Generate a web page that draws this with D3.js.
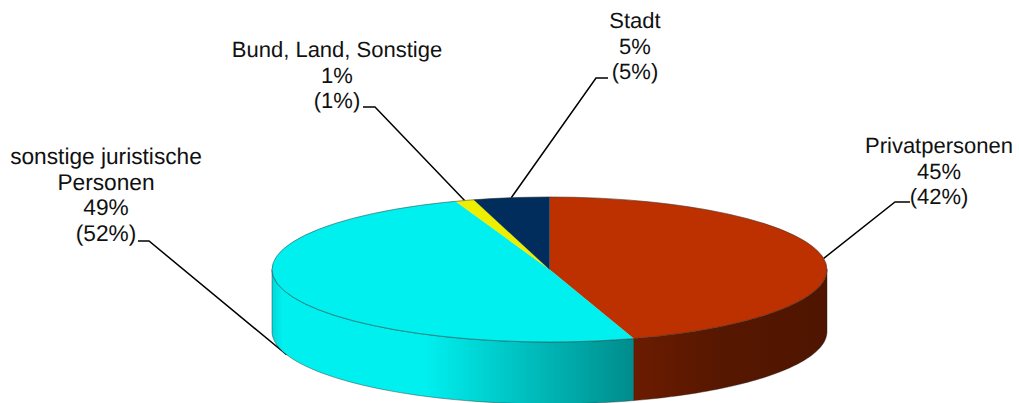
<!DOCTYPE html>
<html><head><meta charset="utf-8">
<script src="https://cdn.jsdelivr.net/npm/d3@7"></script>
<style>html,body{margin:0;padding:0;background:#fff}svg{display:block}text{font-family:"Liberation Sans",Arial,sans-serif;font-size:22px;fill:#111;text-rendering:geometricPrecision}</style>
</head><body><svg id="c" width="1019" height="403"></svg>
<script>
const categories = ["Privatpersonen","sonstige juristische Personen","Bund, Land, Sonstige","Stadt"];
const values = [45.1,49.4,1.1,4.4];
const labelLines = [["Privatpersonen","45%","(42%)"],["sonstige juristische","Personen","49%","(52%)"],["Bund, Land, Sonstige","1%","(1%)"],["Stadt","5%","(5%)"]];
const topColors = ["#bd3000","#00f0f0","#eeee00","#002d5c"];
const wallStops = [
  [["#6b1c00",0],["#561700",.45],["#4f1500",1]],
  [["#00d8d8",0],["#00f0f0",.03],["#00f0f0",.42],["#00d0d0",.6],["#008c8c",1]]
];
// label placement: text centre x, first baseline, font size, leader elbow and tail end
const labelX = [939,106,337,635];
const labelY = [153,164,57,28];
const labelSize = [22,22.7,22,22];
const elbows = [[895,202,910],[149,241,138],[375,107,363],[596,78,608]];

const cx=549.5, cy=269.5, rx=277.5, ry=72.5, depth=62, lineH=25.5;
const svg=d3.select("#c"), defs=svg.append("defs");
const pie=d3.pie().sort(null).value(d=>d)(values);
const pt=(a,dy=0)=>[cx+rx*Math.sin(a),cy-ry*Math.cos(a)+dy];

// leader lines sit behind the pie
pie.forEach((s,i)=>{
  const mid=(s.startAngle+s.endAngle)/2, isWall=i===1;
  const [ax,ay]=pt(mid,isWall?depth:0), e=elbows[i];
  svg.append("path").attr("d",d3.line()([[ax,ay],[e[0],e[1]],[e[2],e[1]]]))
    .attr("fill","none").attr("stroke","#000").attr("stroke-width",1.5);
});

// side wall: only the part of each slice facing front
[0,1].forEach(i=>{
  const s=pie[i];
  const a0=Math.max(s.startAngle,Math.PI/2), a1=Math.min(s.endAngle,3*Math.PI/2);
  if(a1<=a0) return;
  const x0=pt(a0)[0], x1=pt(a1)[0];
  const g=defs.append("linearGradient").attr("id","w"+i).attr("gradientUnits","userSpaceOnUse")
    .attr("x1",Math.min(x0,x1)).attr("x2",Math.max(x0,x1)).attr("y1",0).attr("y2",0);
  wallStops[i].forEach(([c,o])=>g.append("stop").attr("offset",o).attr("stop-color",c));
  const ang=d3.range(0,61).map(k=>a0+(a1-a0)*k/60);
  const poly=ang.map(a=>pt(a)).concat(ang.slice().reverse().map(a=>pt(a,depth)));
  svg.append("path").attr("d",d3.line()(poly)+"Z").attr("fill",`url(#w${i})`)
    .attr("stroke","#222").attr("stroke-width",.6).attr("stroke-opacity",.7);
});

// top face
const arc=d3.arc().innerRadius(0).outerRadius(rx);
const topFace=svg.append("g").attr("transform",`translate(${cx},${cy}) scale(1,${ry/rx})`);
topFace.selectAll("path").data(pie).join("path").attr("d",arc)
  .attr("fill",(d,i)=>topColors[i]).attr("stroke",(d,i)=>topColors[i]).attr("stroke-width",.4);
topFace.append("ellipse").attr("rx",rx).attr("ry",rx).attr("fill","none")
  .attr("stroke","#333").attr("stroke-opacity",.7).attr("stroke-width",.7).attr("vector-effect","non-scaling-stroke");

// labels
labelLines.forEach((ls,i)=>{
  const t=svg.append("text").attr("text-anchor","middle").style("font-size",labelSize[i]+"px");
  ls.forEach((l,k)=>t.append("tspan").attr("x",labelX[i]).attr("y",labelY[i]+k*lineH).text(l));
});
</script></body></html>
